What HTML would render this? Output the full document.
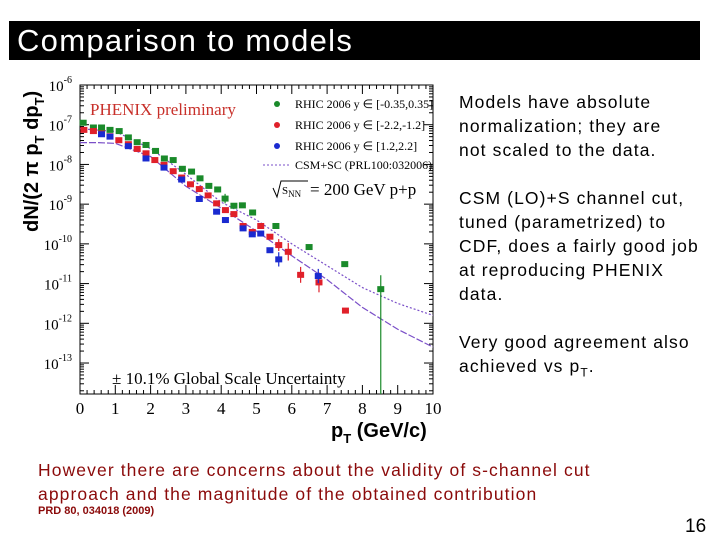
<!DOCTYPE html>
<html><head><meta charset="utf-8"><style>
body{margin:0;width:720px;height:540px;background:#fff;position:relative;overflow:hidden;font-family:"Liberation Sans",Arial,sans-serif}
.t{position:absolute;white-space:nowrap}
</style></head><body>
<div class="t" style="left:9px;top:21px;width:691px;height:39px;background:#000"></div>
<div class="t" style="left:17px;top:22px;color:#fff;font-size:31px;letter-spacing:1.3px;line-height:38px">Comparison to models</div>
<svg id="chart" width="720" height="540" style="position:absolute;left:0;top:0" font-family="Liberation Serif, serif"></svg>
<div class="t" style="left:459px;top:90px;font-size:17.5px;letter-spacing:1.1px;line-height:24px;color:#000">Models have absolute<br>normalization; they are<br>not scaled to the data.<br><br>CSM (LO)+S channel cut,<br>tuned (parametrized) to<br>CDF, does a fairly good job<br>at reproducing PHENIX<br>data.<br><br>Very good agreement also<br>achieved vs p<sub style="font-size:12px">T</sub>.</div>
<div class="t" style="left:38px;top:458px;font-size:17.5px;letter-spacing:1.1px;line-height:24px;color:#8b0a0a">However there are concerns about the validity of s-channel cut<br>approach and the magnitude of the obtained contribution</div>
<div class="t" style="left:38px;top:505px;font-size:11px;font-weight:bold;color:#8b0a0a">PRD 80, 034018 (2009)</div>
<div class="t" style="left:685px;top:516px;font-size:19px">16</div>
<script>
const greenX=[0.09,0.38,0.61,0.85,1.11,1.37,1.62,1.87,2.14,2.39,2.64,2.9,3.16,3.4,3.65,3.9,4.11,4.36,4.6,4.89,5.55,6.49,7.5,8.52];
const greenY=[-6.95,-7.07,-7.07,-7.13,-7.16,-7.32,-7.44,-7.51,-7.66,-7.85,-7.89,-8.11,-8.18,-8.35,-8.54,-8.63,-8.86,-9.04,-9.03,-9.21,-9.55,-10.08,-10.51,-11.14];
const greenErr=[0,0,0,0,0,0,0,0,0,0,0,0,0,0,0,0.05,0.12,0,0,0,0.05,0.05,0,0.35];
const greenErrLo=[0,0,0,0,0,0,0,0,0,0,0,0,0,0,0,0.05,0.12,0,0,0,0.05,0.05,0,3];
const redX=[0.11,0.38,0.61,0.85,1.1,1.37,1.62,1.87,2.12,2.38,2.64,2.88,3.13,3.38,3.63,3.87,4.12,4.36,4.62,4.88,5.12,5.38,5.63,5.9,6.25,6.77,7.52];
const redY=[-7.13,-7.16,-7.22,-7.29,-7.39,-7.49,-7.61,-7.72,-7.89,-8.01,-8.17,-8.33,-8.5,-8.62,-8.78,-8.98,-9.15,-9.25,-9.55,-9.7,-9.55,-9.82,-10.03,-10.2,-10.78,-10.97,-11.68];
const redErr=[0,0,0,0,0,0,0,0,0,0,0,0,0,0,0,0.05,0.05,0,0.05,0.05,0.05,0.05,0.15,0.22,0.2,0.25,0];
const blueX=[0.61,0.85,1.37,1.87,2.38,2.88,3.38,3.87,4.12,4.62,4.88,5.12,5.38,5.63,6.75];
const blueY=[-7.24,-7.3,-7.54,-7.85,-8.08,-8.38,-8.87,-9.19,-9.4,-9.61,-9.76,-9.74,-10.16,-10.39,-10.81];
const blueErr=[0,0,0,0,0,0,0,0,0.05,0.05,0.05,0.05,0,0.18,0.18];
const csmX=[0,1,2,3,4,5,6,7,8,9,10];
const csmY=[-7.1,-7.17,-7.6,-8.25,-8.95,-9.4,-10.0,-10.55,-11.1,-11.5,-11.8];
const lowX=[0,0.5,1,2,3,4,5,6,7,8,9,10];
const lowY=[-7.45,-7.45,-7.47,-7.8,-8.55,-9.1,-9.68,-10.3,-10.9,-11.6,-12.15,-12.6];
const xTicks=[0,1,2,3,4,5,6,7,8,9,10];
const yTicks=[-6,-7,-8,-9,-10,-11,-12,-13];

const L=80,R=433,T=85,B=394,YMIN=-13.78,YMAX=-6;
const sx=v=>L+v*(R-L)/10;
const sy=e=>T+(YMAX-e)*(B-T)/(YMAX-YMIN);
const svg=document.getElementById('chart');
const NS='http://www.w3.org/2000/svg';
function mk(tag,at,parent){const e=document.createElementNS(NS,tag);for(const k in at)e.setAttribute(k,at[k]);(parent||svg).appendChild(e);return e;}

const frame=mk('rect',{x:L,y:T,width:R-L,height:B-T,fill:'none',stroke:'#000','stroke-width':1});



for(let i=0;i<=10;i++){
  for(let m=0;m<5;m++){
    const v=i+m*0.2; if(v>10)break;
    const len=m==0?9:4;
    mk('line',{x1:sx(v),x2:sx(v),y1:B,y2:B-len,stroke:'#000','stroke-width':1});
    mk('line',{x1:sx(v),x2:sx(v),y1:T,y2:T+len,stroke:'#000','stroke-width':1});
  }
}
for(let d=-6;d>-14;d--){
  for(let k=1;k<=9;k++){
    const e=d-1+Math.log10(k); const ee=k==1?d:e;
    if(ee<YMIN)continue;
    const len=k==1?9:4;
    mk('line',{x1:L,x2:L+len,y1:sy(ee),y2:sy(ee),stroke:'#000','stroke-width':1});
    mk('line',{x1:R,x2:R-len,y1:sy(ee),y2:sy(ee),stroke:'#000','stroke-width':1});
  }
}
xTicks.forEach(v=>{const t=mk('text',{x:sx(v),y:B+20,'font-size':17,'text-anchor':'middle'});t.textContent=v;

});
yTicks.forEach(v=>{const t=mk('text',{x:L-8,y:sy(v)+6,'font-size':15,'text-anchor':'end'});


const a=mk('tspan',{},t);a.textContent='10';const b=mk('tspan',{dy:-8,'font-size':10},t);b.textContent=String(v);});

function curve(xs,ys,name,dash){const p=xs.map((x,i)=>(i?'L':'M')+sx(x)+','+sy(ys[i])).join('');
const e=mk('path',{d:p,fill:'none',stroke:'#7a4fc8','stroke-width':1.2,'stroke-dasharray':dash});

}
curve(csmX,csmY,'csm-sc-curve','2,2');
curve(lowX,lowY,'lower-model-curve','7,2');

function series(xs,ys,eh,el,col,name){xs.forEach((x,i)=>{
  const cx=sx(x),cy=sy(ys[i]);
  if(eh[i]>0){const lo=Math.max(ys[i]-el[i],YMIN);mk('line',{x1:cx,x2:cx,y1:sy(ys[i]+eh[i]),y2:sy(lo),stroke:col,'stroke-width':1.2});}
  const c=mk('rect',{x:cx-3.5,y:cy-3,width:7,height:6,fill:col});
  
  
});}
series(greenX,greenY,greenErr,greenErrLo,'#1a8a2a','green-point');
series(redX,redY,redErr,redErr,'#e0202a','red-point');
series(blueX,blueY,blueErr,blueErr,'#1a2ad0','blue-point');

const leg=[['#1a8a2a','RHIC 2006 y \u2208 [-0.35,0.35]'],['#e0202a','RHIC 2006 y \u2208 [-2.2,-1.2]'],['#1a2ad0','RHIC 2006 y \u2208 [1.2,2.2]']];
leg.forEach((l,i)=>{const y=104+i*21;
 const m=mk('circle',{cx:277,cy:y,r:3,fill:l[0]});
 
 
 const t=mk('text',{x:295,y:y+4,'font-size':12});t.textContent=l[1];
 
 });
mk('line',{x1:263,x2:291,y1:165,y2:165,stroke:'#7a4fc8','stroke-dasharray':'2,2'});
{const t=mk('text',{x:295,y:169,'font-size':12});t.textContent='CSM+SC (PRL100:032006)';

}
{const t=mk('text',{x:90,y:115,'font-size':17,fill:'#c8302a'});t.textContent='PHENIX preliminary';

}
mk('path',{d:'M273,188 L277,197 L281,181 L308,181',fill:'none',stroke:'#000','stroke-width':1});
{const t=mk('text',{x:282,y:194,'font-size':11});t.textContent='S';const s=mk('tspan',{dy:3,'font-size':9},t);s.textContent='NN';

}
{const t=mk('text',{x:310,y:195,'font-size':17});t.textContent='= 200 GeV p+p';

}
{const t=mk('text',{x:112,y:384,'font-size':17});t.textContent='\u00b1 10.1% Global Scale Uncertainty';

}
{const t=mk('text',{x:331,y:437,'font-size':20,'font-weight':'bold','font-family':'Liberation Sans, sans-serif'});
const a=mk('tspan',{},t);a.textContent='p';const b=mk('tspan',{dy:6,'font-size':13},t);b.textContent='T';const c=mk('tspan',{dy:-6},t);c.textContent=' (GeV/c)';

}
{const t=mk('text',{transform:'translate(38,232) rotate(-90)','font-size':20,'font-weight':'bold','font-family':'Liberation Sans, sans-serif'});
const p=[['dN/(2 ',0,20],['\u03c0',0,20],[' p',0,20],['T',6,13],[' dp',-6,20],['T',6,13],[')',-6,20]];
p.forEach(q=>{const s=mk('tspan',{dy:q[1],'font-size':q[2]},t);s.textContent=q[0];});

}
</script>
</body></html>
